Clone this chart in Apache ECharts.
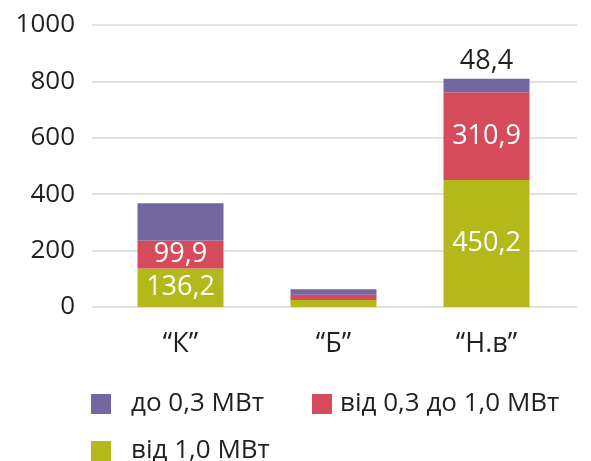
<!DOCTYPE html>
<html>
<head>
<meta charset="utf-8">
<style>
  html, body { margin: 0; padding: 0; background: #fff; }
  #chart { width: 591px; height: 461px; }
</style>
<script src="https://cdn.jsdelivr.net/npm/echarts@6/dist/echarts.min.js"></script>
</head>
<body>
<div id="chart"></div>
<script>
// Installed capacity by power class
const categories = ['“К”', '“Б”', '“Н.в”'];
const seriesNames = ['від 1,0 МВт', 'від 0,3 до 1,0 МВт', 'до 0,3 МВт'];
const over1MW = [136.2, 25, 450.2];
const from03to1MW = [99.9, 18, 310.9];
const upTo03MW = [132, 20, 48.4];
// which values get a printed label
const labelOver1 = [true, false, true];
const labelMid = [true, false, true];
const labelSmall = [false, false, true];
const yTicks = [0, 200, 400, 600, 800, 1000];

const colors = ['#b5b81b', '#d64b5c', '#73679f'];
const FONT = 'Open Sans';
const TEXT = '#231f20';

function withLabels(values, flags) {
  return values.map((v, i) => ({ value: v, label: { show: flags[i] } }));
}
const decimalComma = p => String(p.value).replace('.', ',');

const chart = echarts.init(document.getElementById('chart'), null, { renderer: 'canvas' });

chart.setOption({
  animation: false,
  textStyle: { fontFamily: FONT },
  grid: [
    { left: 92, right: 14, top: 25, bottom: 154 },
    { left: 104, right: 28, top: 25, bottom: 154 }
  ],
  xAxis: [
    { type: 'category', gridIndex: 0, data: categories, show: false },
    {
      type: 'category', gridIndex: 1, data: categories,
      axisLine: { show: false }, axisTick: { show: false },
      axisLabel: { color: TEXT, fontSize: 27, fontFamily: FONT, margin: 24 }
    }
  ],
  yAxis: [
    {
      type: 'value', gridIndex: 0, min: yTicks[0], max: yTicks[yTicks.length - 1], interval: 200,
      axisLine: { show: false }, axisTick: { show: false },
      axisLabel: { color: TEXT, fontSize: 26, fontFamily: FONT, margin: 17,
                   formatter: v => String(v) },
      splitLine: { lineStyle: { color: '#e2e2e2', width: 2 } }
    },
    {
      type: 'value', gridIndex: 1, min: yTicks[0], max: yTicks[yTicks.length - 1], interval: 200,
      show: false, splitLine: { show: false }
    }
  ],
  legend: [
    {
      data: [
        { name: seriesNames[2], textStyle: { padding: [0, 0, 0, 15] } },
        { name: seriesNames[1], textStyle: { padding: [0, 0, 0, 3] } }
      ],
      left: 86, top: 386,
      itemWidth: 20, itemHeight: 20, itemGap: 48,
      icon: 'rect',
      textStyle: { color: TEXT, fontSize: 26, fontFamily: FONT }
    },
    {
      data: [{ name: seriesNames[0], textStyle: { padding: [0, 0, 0, 15] } }],
      left: 86, top: 433,
      itemWidth: 20, itemHeight: 20,
      icon: 'rect',
      textStyle: { color: TEXT, fontSize: 26, fontFamily: FONT }
    }
  ],
  series: [
    {
      name: seriesNames[0], type: 'bar', stack: 'total', xAxisIndex: 1, yAxisIndex: 1,
      barWidth: 86, itemStyle: { color: colors[0] },
      label: { position: 'inside', color: '#fff', fontSize: 27, fontFamily: FONT,
               formatter: decimalComma },
      data: withLabels(over1MW, labelOver1)
    },
    {
      name: seriesNames[1], type: 'bar', stack: 'total', xAxisIndex: 1, yAxisIndex: 1,
      barWidth: 86, itemStyle: { color: colors[1] },
      label: { position: 'inside', color: '#fff', fontSize: 27, fontFamily: FONT,
               formatter: decimalComma },
      data: withLabels(from03to1MW, labelMid)
    },
    {
      name: seriesNames[2], type: 'bar', stack: 'total', xAxisIndex: 1, yAxisIndex: 1,
      barWidth: 86, itemStyle: { color: colors[2] },
      label: { position: 'top', distance: 4, color: TEXT, fontSize: 27, fontFamily: FONT,
               formatter: decimalComma },
      data: withLabels(upTo03MW, labelSmall)
    }
  ]
});
</script>
</body>
</html>
